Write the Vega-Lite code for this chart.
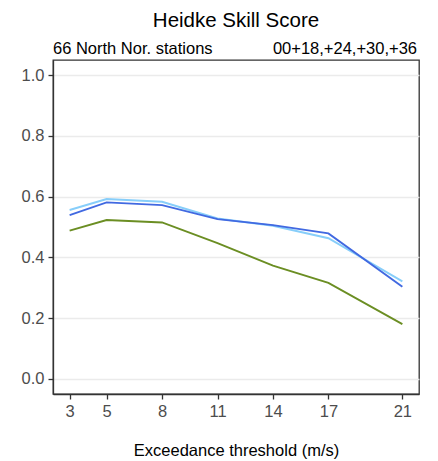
{
  "$schema": "https://vega.github.io/schema/vega-lite/v6.json",
  "width": 366,
  "height": 334,
  "autosize": {"type": "none"},
  "padding": {"left": 53, "top": 60, "right": 19, "bottom": 67},
  "background": "white",
  "title": {"text": "Heidke Skill Score", "font": "Liberation Sans", "fontSize": 20.5, "fontWeight": "normal", "color": "black", "anchor": "middle", "offset": 10},
  "config": {
    "view": {"stroke": "#333333", "strokeWidth": 1.3},
    "axis": {"labelFont": "Liberation Sans", "titleFont": "Liberation Sans", "labelFontSize": 16.5, "labelColor": "#4D4D4D", "tickColor": "#333333", "domainColor": "#333333", "tickSize": 5, "tickWidth": 1.3, "domainWidth": 1.3}
  },
  "datasets": {
    "scores": [
      {"threshold": 3, "model": "A", "hss": 0.556},
      {"threshold": 5, "model": "A", "hss": 0.592},
      {"threshold": 8, "model": "A", "hss": 0.583},
      {"threshold": 11, "model": "A", "hss": 0.528},
      {"threshold": 14, "model": "A", "hss": 0.504},
      {"threshold": 17, "model": "A", "hss": 0.463},
      {"threshold": 21, "model": "A", "hss": 0.321},
      {"threshold": 3, "model": "B", "hss": 0.539},
      {"threshold": 5, "model": "B", "hss": 0.581},
      {"threshold": 8, "model": "B", "hss": 0.572},
      {"threshold": 11, "model": "B", "hss": 0.526},
      {"threshold": 14, "model": "B", "hss": 0.506},
      {"threshold": 17, "model": "B", "hss": 0.479},
      {"threshold": 21, "model": "B", "hss": 0.303},
      {"threshold": 3, "model": "C", "hss": 0.488},
      {"threshold": 5, "model": "C", "hss": 0.523},
      {"threshold": 8, "model": "C", "hss": 0.515},
      {"threshold": 11, "model": "C", "hss": 0.447},
      {"threshold": 14, "model": "C", "hss": 0.373},
      {"threshold": 17, "model": "C", "hss": 0.316},
      {"threshold": 21, "model": "C", "hss": 0.180}
    ],
    "notes": [
      {"label": "66 North Nor. stations", "side": "left"},
      {"label": "00+18,+24,+30,+36", "side": "right"}
    ]
  },
  "layer": [
    {
      "data": {"name": "scores"},
      "mark": {"type": "line", "strokeWidth": 1.9},
      "encoding": {
        "x": {"field": "threshold", "type": "quantitative", "scale": {"domain": [2.1, 21.9], "nice": false, "zero": false},
              "axis": {"values": [3, 5, 8, 11, 14, 17, 21], "grid": false, "title": "Exceedance threshold (m/s)", "titleFontSize": 16.5, "titleFontWeight": "normal", "titleColor": "black", "titlePadding": 23, "labelPadding": 4}},
        "y": {"field": "hss", "type": "quantitative", "scale": {"domain": [-0.05, 1.05], "nice": false},
              "axis": {"values": [0, 0.2, 0.4, 0.6, 0.8, 1.0], "format": ".1f", "title": null, "gridColor": "#EBEBEB", "gridWidth": 1.5, "labelPadding": 4}},
        "color": {"field": "model", "type": "nominal", "scale": {"domain": ["A", "B", "C"], "range": ["#87CEFA", "#4169E1", "#6B8E23"]}, "legend": null},
        "order": {"field": "threshold"}
      }
    },
    {
      "data": {"name": "notes"},
      "transform": [{"filter": "datum.side === 'left'"}],
      "mark": {"type": "text", "align": "left", "baseline": "bottom", "dy": -3, "dx": 0, "font": "Liberation Sans", "fontSize": 16.5, "color": "black", "clip": false},
      "encoding": {"text": {"field": "label"}, "x": {"datum": 2.1}, "y": {"datum": 1.05}}
    },
    {
      "data": {"name": "notes"},
      "transform": [{"filter": "datum.side === 'right'"}],
      "mark": {"type": "text", "align": "right", "baseline": "bottom", "dy": -3, "dx": -2, "font": "Liberation Sans", "fontSize": 16.5, "color": "black", "clip": false},
      "encoding": {"text": {"field": "label"}, "x": {"datum": 21.9}, "y": {"datum": 1.05}}
    }
  ]
}
